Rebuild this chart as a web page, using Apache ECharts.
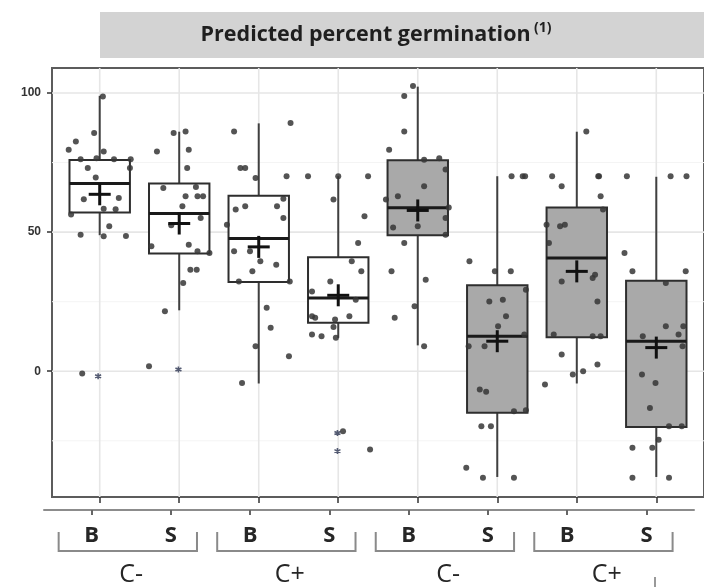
<!DOCTYPE html>
<html><head><meta charset="utf-8">
<script src="https://cdn.jsdelivr.net/npm/echarts@6/dist/echarts.min.js"></script>
<style>html,body{margin:0;padding:0;background:#fff}#c{width:704px;height:587px}</style>
</head><body><div id="c"></div>
<script>
// ---- data ----
const subLabels = ['B','S','B','S','B','S','B','S'];
const groupLabels = ['C-','C+','C-','C+'];
const yTickValues = [0, 50, 100];
const yMinorValues = [-25, 25, 75];
const whiskerLow  = [48.9, 21.9, -4.4, 12.0,  9.3, -38.0, -4.4, -38.0];
const q1          = [57.1, 42.3, 32.1, 17.4, 48.9, -14.9, 12.2, -20.0];
const median      = [67.5, 56.7, 47.7, 26.3, 58.8,  12.6, 40.7,  10.8];
const q3          = [75.9, 67.5, 63.1, 41.0, 75.8,  30.9, 58.9,  32.5];
const whiskerHigh = [99.0, 86.1, 89.1, 70.1, 102.3, 70.1, 86.1,  69.9];
const means       = [63.6, 53.1, 44.7, 27.3, 57.8,  10.8, 35.9,   8.5];

// jittered observations: [jitter, value]
const pts1 = [[0.04,98.8],[-0.07,85.6],[-0.30,82.6],[-0.39,79.6],[0.05,79.0],[-0.24,76.2],[-0.04,76.6],[0.18,76.2],[0.39,76.2],[-0.15,73.1],[0.38,73.1],[-0.05,69.6],[-0.20,61.8],[0.24,62.3],[0.05,58.4],[0.20,58.2],[-0.36,56.3],[0.12,52.1],[-0.24,49.1],[0.05,48.5],[0.33,48.6],[-0.22,-0.8]];
const pts2 = [[-0.07,85.6],[0.08,86.2],[-0.28,79.0],[0.12,79.6],[0.10,73.1],[-0.20,65.9],[0.21,66.2],[0.08,62.9],[0.23,62.9],[0.30,62.9],[0.04,59.3],[0.27,55.1],[-0.10,52.5],[-0.35,44.9],[0.12,45.5],[0.23,43.1],[0.38,42.5],[0.14,36.5],[0.22,36.5],[0.05,31.7],[-0.18,21.6],[-0.38,1.8]];
const pts3 = [[-0.31,86.2],[0.40,89.2],[-0.23,73.1],[-0.17,73.1],[-0.04,69.5],[0.35,70.1],[0.31,62.0],[-0.29,58.1],[-0.17,59.3],[0.23,59.3],[0.31,55.1],[-0.40,52.7],[-0.31,43.1],[-0.11,43.1],[0.02,39.5],[0.22,38.3],[-0.08,35.9],[-0.25,32.3],[0.39,32.3],[0.10,22.8],[0.15,15.6],[-0.04,9.0],[0.38,5.4],[-0.21,-4.2]];
const pts4 = [[-0.38,70.1],[0.0,70.1],[0.375,70.1],[-0.06,61.7],[0.33,55.7],[0.25,46.1],[0.17,39.5],[0.29,35.9],[-0.10,32.3],[-0.33,28.7],[0.22,25.7],[-0.33,19.8],[-0.29,19.2],[-0.04,18.6],[0.14,19.8],[-0.06,15.9],[-0.33,13.2],[-0.21,12.6],[-0.03,12.0],[0.06,-21.6],[0.40,-28.1]];
const pts5 = [[-0.06,102.5],[-0.17,98.9],[-0.17,86.2],[-0.36,79.6],[0.08,76.0],[0.27,76.6],[0.35,72.5],[0.08,66.5],[-0.25,62.9],[-0.40,61.7],[0.39,58.9],[0.35,55.1],[-0.31,51.7],[0.0,52.1],[0.35,49.1],[-0.17,46.1],[-0.33,35.9],[0.10,32.9],[-0.04,23.4],[-0.29,19.2],[0.08,9.0]];
const pts6 = [[0.18,70.1],[0.32,70.1],[0.35,70.1],[-0.35,39.5],[-0.03,35.9],[0.17,35.9],[0.36,29.3],[-0.10,25.1],[0.07,25.7],[0.11,19.8],[0.01,16.2],[0.34,13.2],[-0.36,9.0],[-0.16,9.0],[-0.22,-6.6],[-0.14,-7.4],[0.21,-14.4],[0.36,-14.0],[-0.20,-19.8],[-0.08,-19.8],[-0.39,-34.7],[-0.18,-38.3],[0.21,-38.3]];
const pts7 = [[0.12,86.2],[-0.31,70.1],[0.27,70.1],[0.28,70.1],[-0.19,66.5],[0.30,62.9],[0.33,58.1],[-0.38,52.7],[-0.21,52.1],[-0.15,52.7],[-0.35,46.1],[0.23,34.7],[0.20,33.5],[-0.19,32.3],[0.26,25.1],[-0.29,13.2],[0.20,12.6],[0.30,12.6],[-0.19,6.0],[0.26,2.4],[-0.05,-1.2],[0.08,0.0],[-0.40,-4.8]];
const pts8 = [[-0.37,70.1],[0.18,70.1],[0.38,70.1],[-0.40,42.5],[-0.30,35.9],[0.37,35.9],[0.12,31.7],[0.12,16.2],[0.34,16.2],[0.28,13.2],[-0.17,12.6],[0.33,9.0],[-0.18,-1.2],[-0.01,-4.2],[-0.08,-13.2],[0.16,-19.8],[0.32,-19.8],[0.03,-24.6],[-0.30,-27.5],[-0.05,-27.5],[-0.30,-38.3],[0.16,-38.3]];
// boxplot outliers (asterisks): [group index (1-based), jitter, value]
const outliers = [[1,-0.02,-1.8],[2,-0.01,0.6],[4,-0.01,-22.2],[4,-0.01,-28.7]];

// ---- build ----
const allPts = [pts1,pts2,pts3,pts4,pts5,pts6,pts7,pts8];
const scatterData = [];
allPts.forEach((arr, i) => arr.forEach(p => scatterData.push([i + 1 + p[0], p[1]])));
const outlierData = outliers.map(o => [o[0] + o[1], o[2]]);
const boxData = subLabels.map((_, i) => [i + 1, whiskerLow[i], q1[i], median[i], q3[i], whiskerHigh[i]]);
const meanData = means.map((m, i) => [i + 1, m]);
const catPos = subLabels.map((_, i) => i + 1);

const Y_MIN = -45.2, Y_MAX = 109;
const FONT = '"Open Sans", "Liberation Sans", sans-serif';

function renderBox(params, api) {
  const x = api.value(0);
  const cx = api.coord([x, 0])[0];
  const y = v => api.coord([x, v])[1];
  const w = api.size([0.76, 0])[0];
  const yWL = y(api.value(1)), yQ1 = y(api.value(2)), yMed = y(api.value(3)), yQ3 = y(api.value(4)), yWH = y(api.value(5));
  const shaded = params.dataIndex >= 4;
  const ls = { stroke: '#404040', lineWidth: 2 };
  return { type: 'group', children: [
    { type: 'line', shape: { x1: cx, y1: yWH, x2: cx, y2: yQ3 }, style: ls },
    { type: 'line', shape: { x1: cx, y1: yQ1, x2: cx, y2: yWL }, style: ls },
    { type: 'rect', shape: { x: cx - w / 2, y: yQ3, width: w, height: yQ1 - yQ3 },
      style: { fill: shaded ? '#a9a9a9' : '#ffffff', stroke: '#2e2e2e', lineWidth: 2 } },
    { type: 'line', shape: { x1: cx - w / 2, y1: yMed, x2: cx + w / 2, y2: yMed }, style: { stroke: '#1a1a1a', lineWidth: 3 } }
  ]};
}
function renderMean(params, api) {
  const p = api.coord([api.value(0), api.value(1)]);
  const a = 11;
  const st = { stroke: '#111', lineWidth: 3 };
  return { type: 'group', children: [
    { type: 'line', shape: { x1: p[0] - a, y1: p[1], x2: p[0] + a, y2: p[1] }, style: st },
    { type: 'line', shape: { x1: p[0], y1: p[1] - a, x2: p[0], y2: p[1] + a }, style: st }
  ]};
}
function renderHGrid(params, api) {
  const cs = params.coordSys;
  const yy = api.coord([1, api.value(1)])[1];
  const major = api.value(2) === 1;
  return { type: 'line', shape: { x1: cs.x, y1: yy, x2: cs.x + cs.width, y2: yy },
    style: { stroke: major ? '#e6e6e6' : '#f4f4f4', lineWidth: major ? 1.6 : 1 } };
}
function renderVGrid(params, api) {
  const cs = params.coordSys;
  const xx = api.coord([api.value(0), 0])[0];
  return { type: 'line', shape: { x1: xx, y1: cs.y, x2: xx, y2: cs.y + cs.height },
    style: { stroke: '#e6e6e6', lineWidth: 1.6 } };
}
function renderBracket(params, api) {
  const cs = params.coordSys;
  const c = api.value(0);
  const xl = api.coord([c - 0.915, 0])[0];
  const xr = api.coord([c + 0.83, 0])[0];
  const base = cs.y + cs.height;
  const yt = base + 36, yb = base + 55;
  return { type: 'polyline', shape: { points: [[xl, yt], [xl, yb], [xr, yb], [xr, yt]] },
    style: { stroke: '#8a8a8a', lineWidth: 2, fill: null } };
}

const option = {
  animation: false,
  backgroundColor: '#ffffff',
  grid: [
    { left: 52, top: 68, width: 656, height: 429, show: true, borderColor: '#5c5c5c', borderWidth: 2, backgroundColor: 'transparent' },
    { left: 44, top: 68, width: 650, height: 429, show: false }
  ],
  xAxis: [
    { gridIndex: 0, type: 'value', min: 0.4, max: 8.6, position: 'bottom', axisLine: { show: false, onZero: false },
      axisTick: { show: true, customValues: catPos, length: 6, lineStyle: { color: '#333', width: 1.5 } },
      axisLabel: { show: false }, splitLine: { show: false } },
    { gridIndex: 1, type: 'value', min: 0.4, max: 8.6, position: 'bottom', offset: 14,
      axisLine: { show: true, onZero: false, lineStyle: { color: '#8c8c8c', width: 2 } },
      axisTick: { show: true, customValues: catPos, length: 5, lineStyle: { color: '#666', width: 2 } },
      axisLabel: { show: true, customValues: catPos, formatter: v => subLabels[Math.round(v) - 1],
        margin: 15, fontSize: 22, fontWeight: 'bold', color: '#262626', fontFamily: FONT },
      splitLine: { show: false } },
    { gridIndex: 1, type: 'value', min: 0.4, max: 8.6, position: 'bottom', offset: 14,
      axisLine: { show: false, onZero: false }, axisTick: { show: false },
      axisLabel: { show: true, customValues: groupLabels.map((_, i) => 2 * i + 1.5),
        formatter: v => groupLabels[Math.round((v - 1.5) / 2)],
        margin: 52, fontSize: 25, color: '#262626', fontFamily: FONT },
      splitLine: { show: false } }
  ],
  yAxis: [
    { gridIndex: 0, type: 'value', min: Y_MIN, max: Y_MAX, axisLine: { show: false, onZero: false },
      axisTick: { show: true, customValues: yTickValues, length: 5, lineStyle: { color: '#333', width: 1.5 } },
      axisLabel: { show: true, customValues: yTickValues, margin: 11, fontSize: 12, fontWeight: 'bold', color: '#333', fontFamily: '"Liberation Sans", Arial, sans-serif' },
      splitLine: { show: false } },
    { gridIndex: 1, type: 'value', min: Y_MIN, max: Y_MAX, show: false, axisLine: { onZero: false } }
  ],
  series: [
    { type: 'custom', name: 'hgrid', xAxisIndex: 0, yAxisIndex: 0, z: 0, silent: true,
      renderItem: renderHGrid,
      data: yTickValues.map(v => [1, v, 1]).concat(yMinorValues.map(v => [1, v, 0])) },
    { type: 'custom', name: 'vgrid', xAxisIndex: 0, yAxisIndex: 0, z: 0, silent: true,
      renderItem: renderVGrid, data: catPos.map(c => [c, 0]) },
    { type: 'custom', name: 'boxes', xAxisIndex: 0, yAxisIndex: 0, z: 2,
      renderItem: renderBox, data: boxData },
    { type: 'scatter', name: 'obs', xAxisIndex: 0, yAxisIndex: 0, z: 3,
      symbol: 'circle', symbolSize: 6, itemStyle: { color: '#363636', opacity: 0.85 }, data: scatterData },
    { type: 'scatter', name: 'outliers', xAxisIndex: 0, yAxisIndex: 0, z: 3,
      symbol: 'path://M0,-10L0,10M-8.7,-5L8.7,5M-8.7,5L8.7,-5', symbolSize: 6,
      itemStyle: { color: '#2a3350', borderColor: '#2a3350', borderWidth: 1.6 }, data: outlierData },
    { type: 'custom', name: 'means', xAxisIndex: 0, yAxisIndex: 0, z: 4,
      renderItem: renderMean, data: meanData },
    { type: 'custom', name: 'brackets', xAxisIndex: 1, yAxisIndex: 1, clip: false, silent: true,
      renderItem: renderBracket, data: groupLabels.map((_, i) => [2 * i + 1.5, 0]) }
  ],
  graphic: [
    { type: 'rect', left: 100, top: 12, shape: { width: 604, height: 46 }, style: { fill: '#d3d3d3' }, z: 0 },
    { type: 'text', x: 376, y: 35, z: 1, style: {
        text: '{a|Predicted percent germination} {b|(1)}',
        align: 'center', verticalAlign: 'middle',
        rich: {
          a: { fontSize: 21.5, fontWeight: 'bold', fontFamily: FONT, fill: '#1f1f1f', lineHeight: 28 },
          b: { fontSize: 14, fontWeight: 'bold', fontFamily: FONT, fill: '#1f1f1f', lineHeight: 28, verticalAlign: 'top', padding: [0, 0, 10, 0] }
        } } },
    { type: 'line', shape: { x1: 655, y1: 577, x2: 655, y2: 587 }, style: { stroke: '#777', lineWidth: 1.5 } }
  ]
};
const chart = echarts.init(document.getElementById('c'), null, { renderer: 'canvas' });
chart.setOption(option);
</script>
</body></html>
